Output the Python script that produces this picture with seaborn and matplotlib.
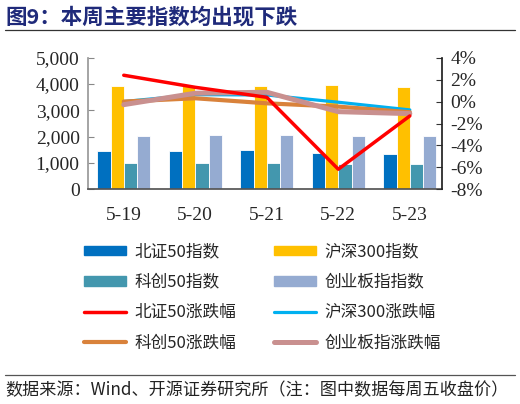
import numpy as np
import pandas as pd
import matplotlib
matplotlib.use("Agg")
import matplotlib.pyplot as plt
import seaborn as sns
from matplotlib.patches import Patch
from matplotlib.lines import Line2D

dates = ["5-19", "5-20", "5-21", "5-22", "5-23"]
bar_names = ["北证50指数", "沪深300指数", "科创50指数", "创业板指指数"]
bz50 = [1444, 1460, 1480, 1379, 1341]
hs300 = [3913, 3930, 3940, 3951, 3899]
kc50 = [988, 990, 990, 973, 961]
cyb = [2025, 2050, 2060, 2037, 2013]

line_names = ["北证50涨跌幅", "沪深300涨跌幅", "科创50涨跌幅", "创业板指涨跌幅"]
bz50_chg = [2.40, 1.30, 0.39, -6.17, -1.31]
hs300_chg = [0.00, 0.63, 0.60, -0.06, -0.76]
kc50_chg = [0.00, 0.30, -0.16, -0.46, -0.97]
cyb_chg = [-0.28, 0.76, 0.85, -0.92, -1.10]

bar_colors = ["#0070C0", "#FFC000", "#4397AE", "#95ABD1"]
line_colors = ["#FF0000", "#00B0F0", "#D9823B", "#C9908F"]

sns.set_theme(style="white")
plt.rcParams['font.family'] = ['Noto Sans CJK SC', 'DejaVu Sans']

fig = plt.figure(figsize=(5.2, 4.04), dpi=100)
ax = fig.add_axes([88/520, 1-189.3/404, (442-88)/520, (189.3-57.7)/404])

df = pd.DataFrame({
    "date": dates * 4,
    "value": bz50 + hs300 + kc50 + cyb,
    "series": sum([[n] * 5 for n in bar_names], []),
})
sns.barplot(data=df, x="date", y="value", hue="series", hue_order=bar_names,
            palette=bar_colors, width=0.74, ax=ax, legend=False,
            edgecolor="white", linewidth=0.6, saturation=1)
ax.set_xlim(-0.5, 4.45)
ax.set_ylim(0, 5000)
ax.set_yticks(range(0, 5001, 1000))
ax.set_yticklabels([f"{v:,}" for v in range(0, 5001, 1000)],
                   family="Liberation Serif", fontsize=14)
ax.set_xticks(range(5))
ax.set_xticklabels(dates, family="Liberation Serif", fontsize=14)
ax.set_xticks([0.5, 1.5, 2.5, 3.5], minor=True)
ax.tick_params(axis="x", which="major", length=0, pad=13)
ax.tick_params(axis="x", which="minor", length=5, direction="out", color="#888888", width=0.8)
ax.tick_params(axis="y", length=4, direction="in", color="#888888", width=0.8, pad=6)
ax.set_xlabel("")
ax.set_ylabel("")
ax.spines["top"].set_visible(False)
ax.spines["left"].set_color("#999999")
ax.spines["bottom"].set_color("#555555")
ax.spines["right"].set_visible(False)

ax2 = ax.twinx()
ldf = pd.DataFrame({
    "date": dates * 4,
    "chg": bz50_chg + hs300_chg + kc50_chg + cyb_chg,
    "series": sum([[n] * 5 for n in line_names], []),
})
widths = {"北证50涨跌幅": 2.5, "沪深300涨跌幅": 2.3, "科创50涨跌幅": 3.0, "创业板指涨跌幅": 3.6}
zorder = {"北证50涨跌幅": 5, "沪深300涨跌幅": 2, "科创50涨跌幅": 3, "创业板指涨跌幅": 4}
for name, col in zip(line_names, line_colors):
    sub = ldf[ldf["series"] == name]
    sns.lineplot(data=sub, x="date", y="chg", color=col, lw=widths[name],
                 ax=ax2, zorder=zorder[name], sort=False)
ax2.set_ylim(-8, 4)
ax2.set_yticks(range(-8, 5, 2))
ax2.set_yticklabels([f"{v}%" for v in range(-8, 5, 2)], family="Liberation Serif", fontsize=14)
ax2.tick_params(axis="y", length=4, direction="in", color="#333333", width=0.8, pad=6)
ax2.set_xlim(-0.5, 4.45)
ax2.set_xlabel("")
ax2.set_ylabel("")
ax2.spines["top"].set_visible(False)
ax2.spines["left"].set_visible(False)
ax2.spines["bottom"].set_visible(False)
ax2.spines["right"].set_color("#222222")

items = [
    (Patch(color=bar_colors[0]), bar_names[0]),
    (Patch(color=bar_colors[2]), bar_names[2]),
    (Line2D([], [], color=line_colors[0], lw=2.5), line_names[0]),
    (Line2D([], [], color=line_colors[2], lw=3.0), line_names[2]),
    (Patch(color=bar_colors[1]), bar_names[1]),
    (Patch(color=bar_colors[3]), bar_names[3]),
    (Line2D([], [], color=line_colors[1], lw=2.3), line_names[1]),
    (Line2D([], [], color=line_colors[3], lw=3.6), line_names[3]),
]
fig.legend([h for h, _ in items], [l for _, l in items], ncol=2, loc="center",
           bbox_to_anchor=(0.505, 0.264), frameon=False, fontsize=12,
           handlelength=2.5, handleheight=0.5, handletextpad=0.5,
           columnspacing=2.3, labelspacing=0.8)

fig.text(5/520, 1-17/404, "图9：本周主要指数均出现下跌", fontsize=15.5, fontweight="bold",
         color="#1F2A7A", va="center", ha="left")
fig.add_artist(Line2D([5/520, 515/520], [1-30/404, 1-30/404], color="#333333", lw=0.9))
fig.add_artist(Line2D([5/520, 515/520], [1-374.5/404, 1-374.5/404], color="#555555", lw=0.9))
fig.text(5/520, 1-390/404, "数据来源：Wind、开源证券研究所（注：图中数据每周五收盘价）",
         fontsize=12.3, color="#222222", va="center", ha="left")

fig.savefig("out.png", dpi=100)
